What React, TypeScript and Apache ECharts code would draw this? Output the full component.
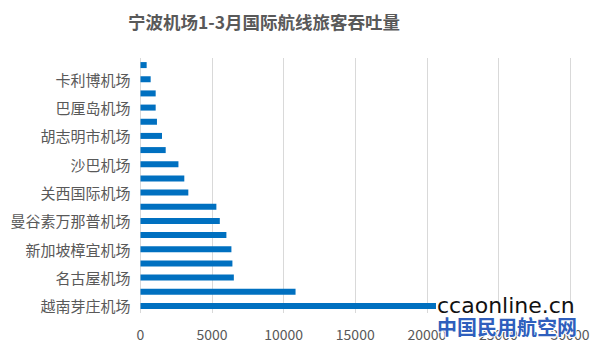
import React, { useEffect, useRef } from "react";
import * as echarts from "echarts";

const titleText = "宁波机场1-3月国际航线旅客吞吐量";
// bottom to top
const categories = [
  "越南芽庄机场", "", "名古屋机场", "", "新加坡樟宜机场", "", "曼谷素万那普机场", "",
  "关西国际机场", "", "沙巴机场", "", "胡志明市机场", "", "巴厘岛机场", "", "卡利博机场", "",
];
const passengers = [20640, 10830, 6520, 6420, 6350, 6000, 5540, 5300, 3340, 3060, 2650, 1760, 1500, 1150, 1060, 1060, 710, 430];
const xTicks = { min: 0, max: 30000, interval: 5000 };

export default function App() {
  const ref = useRef<HTMLDivElement>(null);
  useEffect(() => {
    if (!ref.current) return;
    const chart = echarts.init(ref.current, null, { renderer: "svg" });
    const font = "'Noto Sans CJK SC', 'Noto Sans', sans-serif";
    chart.setOption({
      animation: false,
      backgroundColor: "#ffffff",
      title: {
        text: titleText,
        left: 123,
        top: 8,
        textStyle: { fontFamily: font, fontSize: 17.5, fontWeight: "bold", color: "#595959" },
      },
      grid: { left: 140.5, right: 30, top: 58, bottom: 44, containLabel: false },
      xAxis: {
        type: "value",
        min: xTicks.min,
        max: xTicks.max,
        interval: xTicks.interval,
        axisLine: { show: false },
        axisTick: { show: false },
        splitLine: { show: true, lineStyle: { color: "#d9d9d9", width: 1 } },
        axisLabel: {
          color: "#595959",
          fontSize: 14,
          fontFamily: font,
          margin: 14,
          formatter: (v: number) => String(v),
        },
      },
      yAxis: {
        type: "category",
        data: categories,
        axisLine: { show: false },
        axisTick: { show: false },
        axisLabel: { interval: 1, color: "#595959", fontSize: 15, fontFamily: font, margin: 10 },
      },
      series: [
        {
          type: "bar",
          data: passengers,
          barWidth: 6,
          itemStyle: { color: "#0070c0" },
        },
      ],
      graphic: [
        {
          type: "text",
          x: 437,
          y: 305,
          z: 100,
          style: {
            text: "ccaonline.cn",
            fill: "#111111",
            font: "22px 'DejaVu Sans', sans-serif",
            verticalAlign: "middle",
          },
        },
        {
          type: "text",
          x: 437,
          y: 326,
          z: 100,
          style: {
            text: "中国民用航空网",
            fill: "#2f5fbd",
            stroke: "#ffffff",
            lineWidth: 2,
            font: "bold 20px 'Noto Sans CJK SC', sans-serif",
            verticalAlign: "middle",
          },
        },
      ],
    });
    return () => chart.dispose();
  }, []);
  return <div ref={ref} style={{ width: 600, height: 357, position: "absolute", left: 0, top: 0 }} />;
}
